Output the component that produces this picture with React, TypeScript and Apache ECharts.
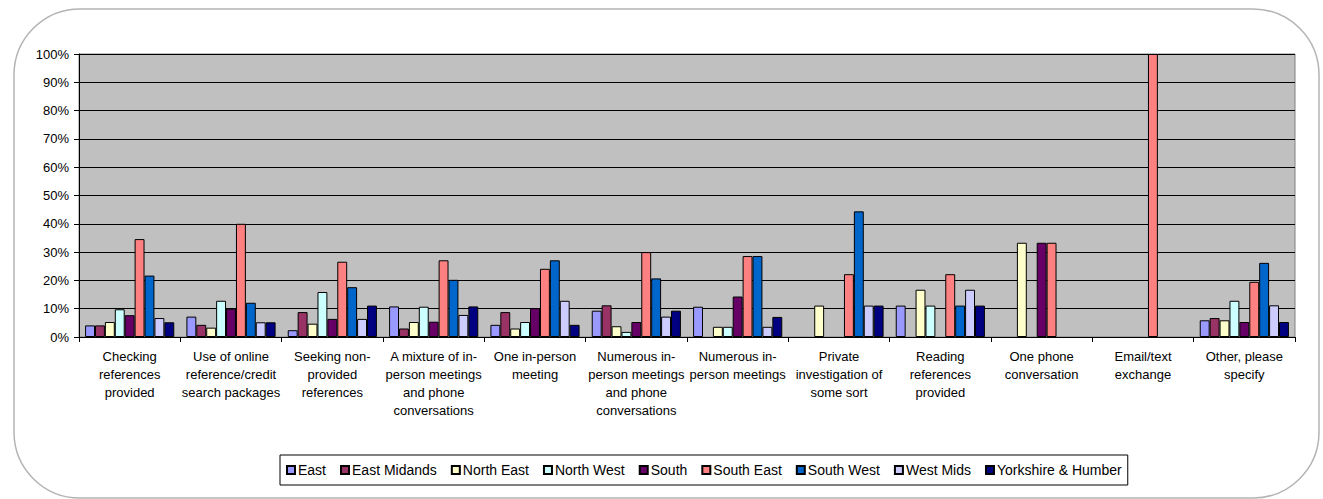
import React, { useEffect, useRef } from "react";
import * as echarts from "echarts";

const categories = [
  "Checking\nreferences\nprovided",
  "Use of online\nreference/credit\nsearch packages",
  "Seeking non-\nprovided\nreferences",
  "A mixture of in-\nperson meetings\nand phone\nconversations",
  "One in-person\nmeeting",
  "Numerous in-\nperson meetings\nand phone\nconversations",
  "Numerous in-\nperson meetings",
  "Private\ninvestigation of\nsome sort",
  "Reading\nreferences\nprovided",
  "One phone\nconversation",
  "Email/text\nexchange",
  "Other, please\nspecify",
];

const east = [4.1, 7.2, 2.4, 10.8, 4.3, 9.3, 10.7, 0, 11.1, 0, 0, 5.9];
const eastMidlands = [4.1, 4.3, 8.8, 3.0, 8.8, 11.2, 0, 0, 0, 0, 0, 6.7];
const northEast = [5.3, 3.3, 4.7, 5.3, 3.0, 3.8, 3.6, 11.1, 16.7, 33.3, 0, 5.9];
const northWest = [9.8, 12.8, 15.9, 10.7, 5.3, 1.8, 3.6, 0, 11.1, 0, 0, 12.8];
const south = [7.7, 10.0, 6.4, 5.4, 10.2, 5.3, 14.3, 0, 0, 33.3, 0, 5.3];
const southEast = [34.6, 40.0, 26.6, 27.1, 24.1, 30.0, 28.6, 22.2, 22.2, 33.3, 100, 19.5];
const southWest = [21.7, 12.1, 17.6, 20.2, 27.1, 20.7, 28.6, 44.4, 11.1, 0, 0, 26.2];
const westMids = [6.7, 5.2, 6.4, 7.8, 12.8, 7.2, 3.6, 11.1, 16.7, 0, 0, 11.2];
const yorkshire = [5.2, 5.2, 11.1, 10.8, 4.3, 9.3, 7.1, 11.1, 11.1, 0, 0, 5.3];

const seriesNames = [
  "East",
  "East Midands",
  "North East",
  "North West",
  "South",
  "South East",
  "South West",
  "West Mids",
  "Yorkshire & Humber",
];
const seriesData = [east, eastMidlands, northEast, northWest, south, southEast, southWest, westMids, yorkshire];
const colors = ["#9999FF", "#993366", "#FFFFCC", "#CCFFFF", "#660066", "#FF8080", "#0066CC", "#CCCCFF", "#000080"];

const FONT = "Liberation Sans";

export default function App() {
  const ref = useRef<HTMLDivElement>(null);
  useEffect(() => {
    const chart = echarts.init(ref.current!, null, { renderer: "svg" });
    chart.setOption({
      animation: false,
      backgroundColor: "#ffffff",
      graphic: [
        {
          type: "rect",
          z: -10,
          silent: true,
          shape: { x: 14, y: 9, width: 1305, height: 489, r: 66 },
          style: { fill: "#ffffff", stroke: "#b4b4b4", lineWidth: 1.5 },
        },
      ],
      grid: {
        left: 79,
        top: 54,
        width: 1216,
        height: 283,
        show: true,
        backgroundColor: "#c0c0c0",
        borderColor: "#808080",
        borderWidth: 1,
        z: 0,
      },
      legend: {
        left: 280,
        top: 455,
        padding: [8, 6, 8, 6],
        borderColor: "#000000",
        borderWidth: 1,
        backgroundColor: "#ffffff",
        itemWidth: 8,
        itemHeight: 8,
        itemGap: 14,
        icon: "rect",
        textStyle: { fontFamily: FONT, fontSize: 14, color: "#000", padding: [0, 0, 0, -2] },
        data: seriesNames,
      },
      xAxis: {
        type: "category",
        data: categories,
        axisLine: { lineStyle: { color: "#000", width: 1 } },
        axisTick: { show: true, length: 5, lineStyle: { color: "#000" } },
        axisLabel: {
          interval: 0,
          margin: 10,
          fontFamily: FONT,
          fontSize: 13,
          lineHeight: 18,
          color: "#000",
          align: "center",
        },
      },
      yAxis: {
        type: "value",
        min: 0,
        max: 100,
        interval: 10,
        axisLine: { show: true, lineStyle: { color: "#000" } },
        axisTick: { show: true, length: 5, lineStyle: { color: "#000" } },
        axisLabel: {
          formatter: "{value}%",
          margin: 10,
          fontFamily: FONT,
          fontSize: 13,
          color: "#000",
        },
        splitLine: { show: true, lineStyle: { color: "#000", width: 1 } },
      },
      series: seriesNames.map((name, i) => ({
        name,
        type: "bar",
        data: seriesData[i].map((v) => (v === 0 ? "-" : v)),
        barGap: "0%",
        barCategoryGap: "12%",
        itemStyle: { color: colors[i], borderColor: "#000", borderWidth: 1 },
      })),
    });
    return () => chart.dispose();
  }, []);
  return (
    <div
      ref={ref}
      style={{ position: "fixed", left: 0, top: 0, width: 1323, height: 499 }}
    />
  );
}
